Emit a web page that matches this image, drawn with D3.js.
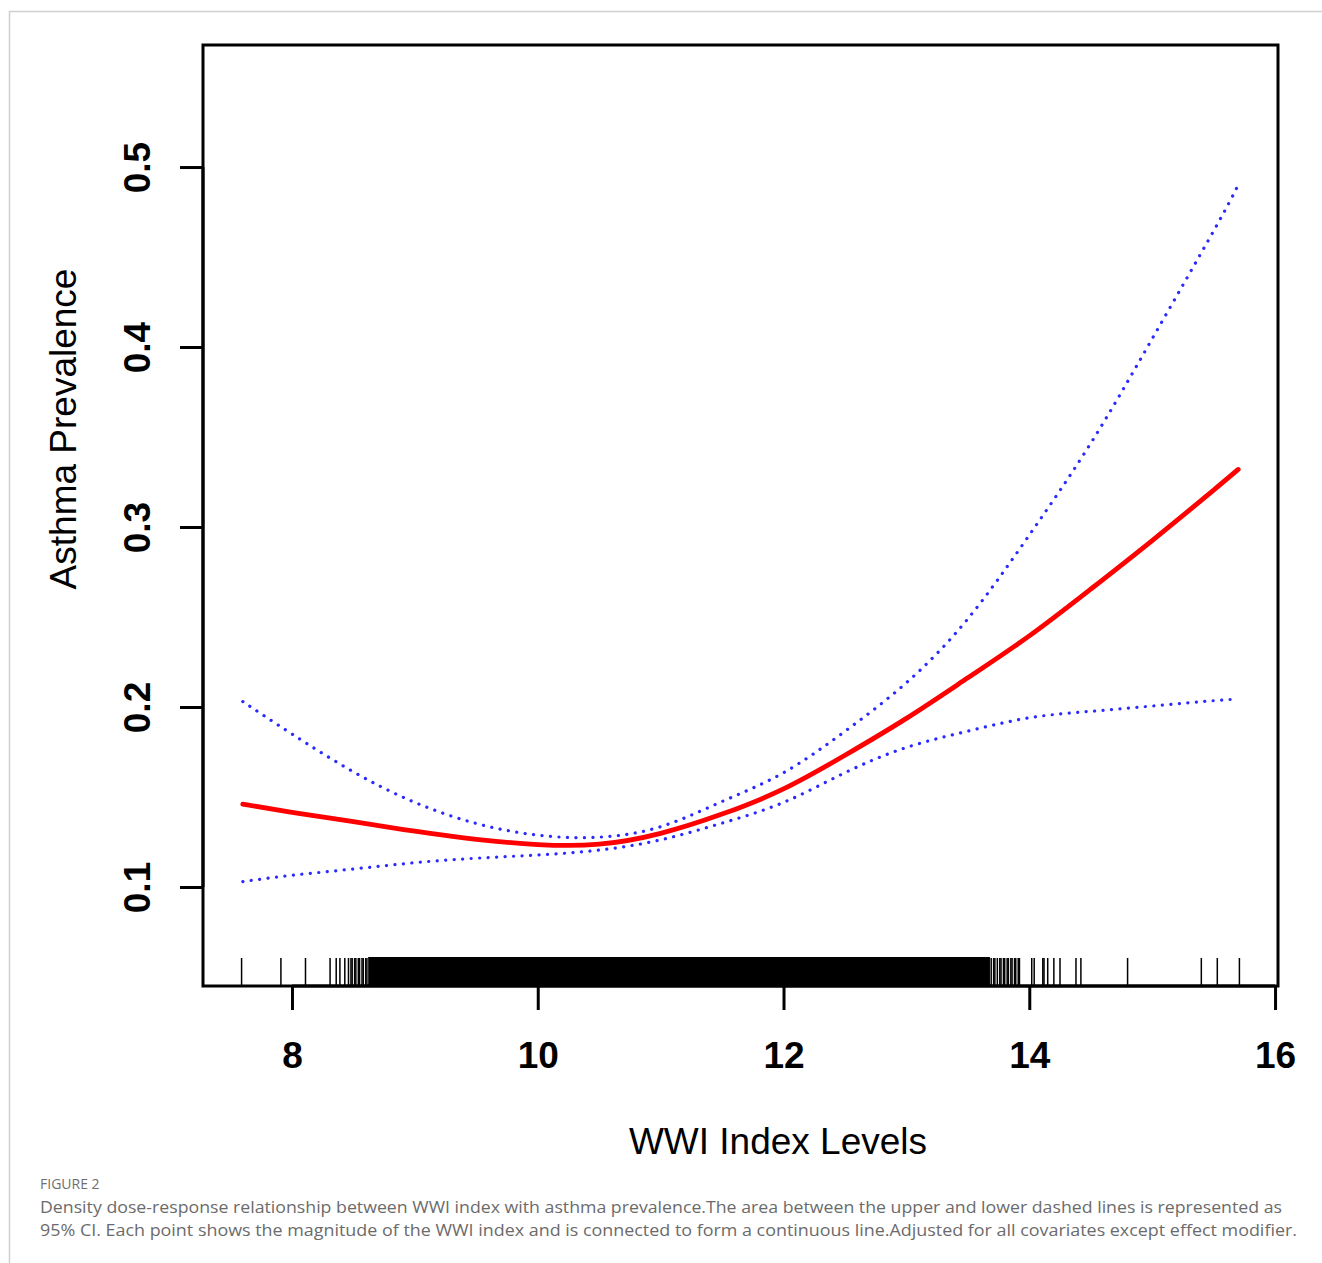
<!DOCTYPE html>
<html>
<head>
<meta charset="utf-8">
<script src="https://cdn.jsdelivr.net/npm/d3@7"></script>
<style>
    html, body { margin: 0; padding: 0; background: #fff; }
    svg { display: block; }
</style>
</head>
<body>
<svg id="chart" width="1322" height="1263"></svg>
<script>
// Data.
const wwi = [7.6, 8.0, 8.5, 9.0, 9.5, 10.0, 10.5, 11.0, 11.5, 12.0, 12.5, 13.0, 13.5, 14.0, 14.5, 15.0, 15.5, 15.7];
const prevalence = [0.146, 0.1415, 0.1363, 0.131, 0.1265, 0.1236, 0.1238, 0.1298, 0.1405, 0.1545, 0.1732, 0.1937, 0.2162, 0.2395, 0.2655, 0.2925, 0.3205, 0.332];
const upperCI = [0.203, 0.185, 0.164, 0.147, 0.1353, 0.1288, 0.1277, 0.1335, 0.1475, 0.1635, 0.1865, 0.2135, 0.249, 0.2955, 0.3465, 0.4046, 0.4645, 0.49];
const lowerCI = [0.103, 0.1065, 0.110, 0.1135, 0.116, 0.1178, 0.1205, 0.1262, 0.1355, 0.147, 0.1635, 0.1775, 0.1866, 0.194, 0.1976, 0.2005, 0.2035, 0.2044];

// Rug: single observations plus the band where they pile up into solid black.
const rugSingles = [7.59, 7.91, 8.11, 8.31, 8.36, 8.39, 8.43, 8.46, 8.48, 8.49, 8.51, 8.52, 8.54, 8.55, 8.57, 8.58, 8.60, 8.61,
    13.69, 13.71, 13.72, 13.74, 13.76, 13.77, 13.79, 13.80, 13.82, 13.83, 13.85, 13.86, 13.88, 13.89, 13.91, 13.92,
    14.02, 14.04, 14.11, 14.12, 14.15, 14.20, 14.25, 14.38, 14.42, 14.80, 15.40, 15.53, 15.71];
const rugBand = [8.62, 13.68];

const xTicks = [8, 10, 12, 14, 16];
const yTicks = [0.1, 0.2, 0.3, 0.4, 0.5];
const xTitle = 'WWI Index Levels';
const yTitle = 'Asthma Prevalence';
const captionHead = 'FIGURE 2';
const captionLines = [
    'Density dose-response relationship between WWI index with asthma prevalence.The area between the upper and lower dashed lines is represented as',
    '95% CI. Each point shows the magnitude of the WWI index and is connected to form a continuous line.Adjusted for all covariates except effect modifier.'
];

// Constants.
const FRAME = {left: 203, right: 1278, top: 45, bottom: 986};
const FONT = 'Liberation Sans, Arial, sans-serif';

const svg = d3.select('#chart');

// Page border (only top and left are visible).
svg.append('path')
    .attr('d', 'M9.5,1263 V11.5 H1322')
    .attr('fill', 'none')
    .attr('stroke', '#d0d0d0')
    .attr('stroke-width', 1.5);

// Scales, R style: 4% padding round the x data range.
const xMin = d3.min(wwi), xMax = d3.max(wwi);
const pad = (xMax - xMin) * 0.04;
const x = d3.scaleLinear()
    .domain([xMin - pad, xMax + pad])
    .range([FRAME.left, FRAME.right]);
const y = d3.scaleLinear()
    .domain([0.045, 0.5678])
    .range([FRAME.bottom, FRAME.top]);

// Rug.
const rugH = 29;
svg.append('rect')
    .attr('x', x(rugBand[0]))
    .attr('y', FRAME.bottom - rugH)
    .attr('width', x(rugBand[1]) - x(rugBand[0]))
    .attr('height', rugH)
    .attr('fill', '#000');
svg.append('g')
    .selectAll('line')
    .data(rugSingles)
    .join('line')
    .attr('x1', d => x(d))
    .attr('x2', d => x(d))
    .attr('y1', FRAME.bottom)
    .attr('y2', FRAME.bottom - rugH + 1)
    .attr('stroke', '#000')
    .attr('stroke-width', 1.5);

// Curves.
const line = vals => d3.line()
    .x((d, i) => x(wwi[i]))
    .y(d => y(d))
    .curve(d3.curveNatural)(vals);

[upperCI, lowerCI].forEach(vals => {
    svg.append('path')
        .attr('d', line(vals))
        .attr('fill', 'none')
        .attr('stroke', '#2a2aff')
        .attr('stroke-width', 3.2)
        .attr('stroke-linecap', 'round')
        .attr('stroke-dasharray', '0.1 8.4');
});
svg.append('path')
    .attr('d', line(prevalence))
    .attr('fill', 'none')
    .attr('stroke', '#ff0000')
    .attr('stroke-width', 4.8)
    .attr('stroke-linecap', 'round');

// Frame.
svg.append('rect')
    .attr('x', FRAME.left)
    .attr('y', FRAME.top)
    .attr('width', FRAME.right - FRAME.left)
    .attr('height', FRAME.bottom - FRAME.top)
    .attr('fill', 'none')
    .attr('stroke', '#000')
    .attr('stroke-width', 3);

// X axis.
const xAxis = svg.append('g')
    .attr('transform', `translate(0,${FRAME.bottom})`)
    .call(d3.axisBottom(x).tickValues(xTicks).tickSize(24).tickPadding(32).tickFormat(d3.format('d')));
xAxis.select('.domain')
    .attr('d', `M${x(xTicks[0])},0H${x(xTicks[xTicks.length - 1])}`)
    .attr('stroke-width', 3);
xAxis.selectAll('.tick line').attr('stroke-width', 3);
xAxis.selectAll('.tick text')
    .attr('font-family', FONT)
    .attr('font-size', 37)
    .attr('font-weight', 'bold')
    .attr('fill', '#000');

// Y axis.
const yAxis = svg.append('g')
    .attr('transform', `translate(${FRAME.left},0)`)
    .call(d3.axisLeft(y).tickValues(yTicks).tickSize(23).tickFormat(d3.format('.1f')));
yAxis.select('.domain')
    .attr('d', `M0,${y(yTicks[0])}V${y(yTicks[yTicks.length - 1])}`)
    .attr('stroke-width', 3);
yAxis.selectAll('.tick line').attr('stroke-width', 3);
yAxis.selectAll('.tick text')
    .attr('x', null)
    .attr('dy', null)
    .attr('transform', 'translate(-53,0) rotate(-90)')
    .attr('text-anchor', 'middle')
    .attr('font-family', FONT)
    .attr('font-size', 37)
    .attr('font-weight', 'bold')
    .attr('fill', '#000');

// Axis titles.
svg.append('text')
    .attr('x', 778)
    .attr('y', 1154)
    .attr('text-anchor', 'middle')
    .attr('font-family', FONT)
    .attr('font-size', 37)
    .attr('fill', '#000')
    .text(xTitle);
svg.append('text')
    .attr('transform', 'translate(76,429) rotate(-90)')
    .attr('text-anchor', 'middle')
    .attr('font-family', FONT)
    .attr('font-size', 37)
    .attr('fill', '#000')
    .text(yTitle);

// Caption.
svg.append('text')
    .attr('x', 40)
    .attr('y', 1189)
    .attr('font-family', 'Open Sans, sans-serif')
    .attr('font-size', 14)
    .attr('fill', '#6f6f6f')
    .text(captionHead);
svg.append('g')
    .selectAll('text')
    .data(captionLines)
    .join('text')
    .attr('x', 40)
    .attr('y', (d, i) => 1213 + i * 23)
    .attr('font-family', 'Open Sans, sans-serif')
    .attr('font-size', 17)
    .attr('fill', '#6b6b6b')
    .attr('textLength', (d, i) => i === 0 ? 1242 : 1257)
    .attr('lengthAdjust', 'spacingAndGlyphs')
    .text(d => d);
</script>
</body>
</html>
